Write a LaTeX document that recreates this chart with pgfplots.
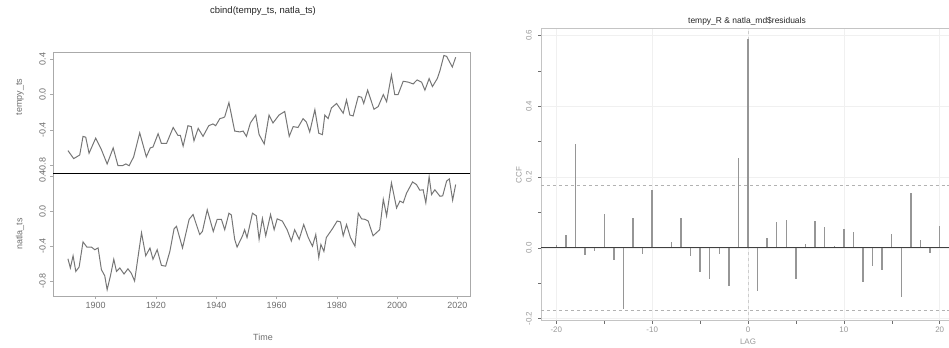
\documentclass[border=0pt]{standalone}
\usepackage{pgfplots}
\pgfplotsset{compat=1.18}
\usepackage{fontspec}
\setmainfont{Liberation Sans}
\definecolor{ln}{RGB}{118,118,118}
\definecolor{fr}{RGB}{170,170,170}
\definecolor{tk}{RGB}{110,110,110}
\definecolor{bar}{RGB}{150,150,150}
\begin{document}
\begin{tikzpicture}[x=1bp,y=1bp]
\useasboundingbox (0,0) rectangle (949,347);
\pgfplotsset{
  leftpanel/.style={
    scale only axis, width=417bp,
    xmin=1885.84, xmax=2024.16,
    axis line style={fr, line width=0.6bp},
    tick style={fr, line width=0.5bp},
    tick align=outside, major tick length=3bp,
    xtick pos=bottom, ytick pos=left,
    xtick={1900,1920,1940,1960,1980,2000,2020},
    ytick={-0.8,-0.4,0,0.4},
    yticklabels={-0.8,-0.4,0.0,0.4},
    yticklabel shift=3bp,
    yticklabel style={rotate=90, anchor=south, font=\fontsize{9}{10}\selectfont, text=tk, inner sep=1bp},
    xticklabel style={font=\fontsize{9}{10}\selectfont, text=tk},
    /pgf/number format/assume math mode=true,
    clip=true,
  }
}
% top panel
\begin{axis}[leftpanel, at={(53bp,174bp)}, anchor=south west, height=121bp,
  ymin=-0.882, ymax=0.479, xticklabels={}, xtick style={draw=none}]
\addplot[ln, line width=1bp] coordinates {
(1890.8,-0.63)(1892.7,-0.72)(1894.7,-0.68)(1895.8,-0.47)(1896.7,-0.48)(1897.8,-0.66)(1900.0,-0.49)(1901.9,-0.62)(1903.8,-0.78)(1905.8,-0.60)(1907.4,-0.80)(1908.8,-0.80)(1910.0,-0.78)(1911.1,-0.80)(1912.6,-0.70)(1914.6,-0.43)(1916.8,-0.70)(1918.1,-0.60)(1919.0,-0.59)(1920.7,-0.44)(1921.8,-0.55)(1923.5,-0.55)(1925.7,-0.37)(1927.3,-0.46)(1928.1,-0.46)(1929.0,-0.58)(1930.6,-0.35)(1931.7,-0.36)(1932.6,-0.52)(1934.0,-0.38)(1935.6,-0.47)(1937.5,-0.35)(1938.9,-0.33)(1939.8,-0.35)(1941.2,-0.27)(1942.3,-0.26)(1942.8,-0.25)(1944.2,-0.09)(1946.1,-0.41)(1947.8,-0.42)(1948.9,-0.41)(1950.0,-0.47)(1951.3,-0.32)(1953.1,-0.23)(1954.2,-0.45)(1955.9,-0.555)(1957.5,-0.23)(1958.8,-0.32)(1960.8,-0.23)(1962.7,-0.19)(1964.2,-0.47)(1965.5,-0.36)(1967.1,-0.37)(1968.8,-0.27)(1969.9,-0.31)(1971.0,-0.42)(1972.7,-0.17)(1974.0,-0.435)(1975.2,-0.45)(1976.0,-0.23)(1977.1,-0.27)(1978.2,-0.15)(1979.9,-0.10)(1982.1,-0.21)(1983.2,-0.06)(1984.3,-0.23)(1985.4,-0.24)(1987.1,-0.02)(1988.2,-0.03)(1988.9,-0.10)(1990.2,0.05)(1992.3,-0.165)(1993.7,-0.135)(1995.4,0.0)(1996.5,-0.08)(1998.1,0.22)(1999.2,0.0)(2000.3,0.0)(2002.0,0.15)(2003.7,0.14)(2005.3,0.12)(2006.6,0.165)(2008.1,0.14)(2009.2,0.05)(2010.6,0.18)(2011.7,0.09)(2013.3,0.18)(2014.2,0.27)(2015.5,0.44)(2016.4,0.43)(2018.3,0.31)(2019.4,0.42)
};
\end{axis}
% bottom panel
\begin{axis}[leftpanel, at={(53bp,51bp)}, anchor=south west, height=123bp,
  ymin=-0.973, ymax=0.443,
  xticklabels={1900,1920,1940,1960,1980,2000,2020}]
\addplot[ln, line width=1bp] coordinates {
(1890.8,-0.545)(1891.6,-0.65)(1892.5,-0.51)(1893.4,-0.69)(1894.5,-0.64)(1895.8,-0.35)(1897.1,-0.41)(1898.6,-0.41)(1899.7,-0.44)(1900.8,-0.42)(1901.9,-0.67)(1903.0,-0.74)(1903.8,-0.90)(1904.9,-0.74)(1906.0,-0.55)(1906.9,-0.69)(1908.0,-0.65)(1909.4,-0.72)(1910.7,-0.66)(1911.8,-0.71)(1912.9,-0.80)(1915.2,-0.245)(1916.6,-0.51)(1918.0,-0.42)(1919.0,-0.55)(1920.4,-0.44)(1921.8,-0.62)(1923.2,-0.63)(1924.6,-0.46)(1926.0,-0.20)(1926.8,-0.17)(1928.8,-0.42)(1931.0,-0.09)(1932.3,-0.035)(1934.5,-0.265)(1935.4,-0.23)(1937.0,0.02)(1939.0,-0.23)(1940.3,-0.09)(1941.7,-0.09)(1942.8,-0.21)(1944.2,-0.02)(1945.0,-0.04)(1946.1,-0.32)(1946.9,-0.41)(1948.7,-0.28)(1949.4,-0.21)(1950.2,-0.30)(1952.0,-0.02)(1953.3,-0.05)(1954.2,-0.32)(1955.3,-0.08)(1956.4,-0.28)(1958.0,-0.035)(1959.2,-0.21)(1960.2,-0.085)(1961.9,-0.11)(1963.5,-0.21)(1964.9,-0.34)(1966.0,-0.21)(1967.5,-0.32)(1969.0,-0.15)(1970.5,-0.30)(1971.9,-0.40)(1973.0,-0.265)(1974.0,-0.53)(1974.7,-0.38)(1975.7,-0.46)(1976.5,-0.30)(1978.5,-0.20)(1980.1,-0.11)(1981.2,-0.12)(1982.1,-0.28)(1983.2,-0.15)(1984.5,-0.30)(1986.0,-0.40)(1987.1,-0.02)(1988.2,-0.085)(1989.3,-0.09)(1990.4,-0.11)(1992.0,-0.28)(1993.1,-0.245)(1994.2,-0.21)(1995.4,0.14)(1996.5,-0.05)(1998.1,0.33)(1999.8,0.04)(2000.9,0.12)(2002.0,0.10)(2003.1,0.21)(2005.1,0.34)(2006.4,0.31)(2007.5,0.245)(2008.6,0.25)(2009.5,0.10)(2010.6,0.40)(2011.4,0.195)(2012.5,0.25)(2014.2,0.175)(2015.1,0.18)(2016.4,0.35)(2017.3,0.375)(2018.4,0.13)(2019.4,0.31)
};
\draw[black, line width=0.9bp] (rel axis cs:0,1) -- (rel axis cs:1,1);
\end{axis}
% right panel
\begin{axis}[at={(541bp,26.5bp)}, anchor=south west, scale only axis,
  width=414bp, height=292.2bp,
  xmin=-21.6, xmax=21.6, ymin=-0.205, ymax=0.62,
  axis line style={fr!70, line width=0.6bp},
  tick style={tk, line width=0.5bp},
  tick align=outside, major tick length=3bp, minor tick length=3bp,
  xtick pos=bottom, ytick pos=left,
  xtick={-20,-10,0,10,20}, minor xtick={-15,-5,5,15},
  xticklabels={-20,-10,0,10,20},
  ytick={-0.2,0,0.2,0.4,0.6}, minor ytick={-0.1,0.1,0.3,0.5},
  yticklabels={-0.2,0.0,0.2,0.4,0.6},
  yticklabel shift=5bp,
  yticklabel style={rotate=90, anchor=south, font=\fontsize{8}{9}\selectfont, text=gray!80, inner sep=1bp},
  xticklabel style={font=\fontsize{8}{9}\selectfont, text=gray!80},
  xmajorgrids, ymajorgrids, grid style={gray!12, line width=0.6bp},
  /pgf/number format/assume math mode=true,
]
\draw[gray!40, dashed, line width=0.7bp] (axis cs:0,-0.205) -- (axis cs:0,0.62);
\draw[gray!60, dashed, line width=0.5bp] (axis cs:-21.6,0.176) -- (axis cs:21.6,0.176);
\draw[gray!60, dashed, line width=0.5bp] (axis cs:-21.6,-0.176) -- (axis cs:21.6,-0.176);
\addplot[ycomb, bar, line width=1.4bp] coordinates {
(-20,0.007)(-19,0.035)(-18,0.292)(-17,-0.019)(-16,-0.008)(-15,0.097)(-14,-0.035)(-13,-0.172)(-12,0.083)(-11,-0.016)(-10,0.164)(-9,0.002)(-8,0.018)(-7,0.083)(-6,-0.024)(-5,-0.068)(-4,-0.087)(-3,-0.016)(-2,-0.108)(-1,0.255)(0,0.590)(1,-0.122)(2,0.029)(3,0.074)(4,0.080)(5,-0.089)(6,0.012)(7,0.077)(8,0.060)(9,0.006)(10,0.054)(11,0.044)(12,-0.096)(13,-0.052)(14,-0.063)(15,0.039)(16,-0.138)(17,0.154)(18,0.021)(19,-0.014)(20,0.063)
};
\draw[black!75, line width=0.8bp] (axis cs:-21.6,0) -- (axis cs:21.6,0);
\end{axis}
% texts
\node[font=\fontsize{9.5}{11}\selectfont, text=black!85] at (263,336) {cbind(tempy\_ts, natla\_ts)};
\node[font=\fontsize{9}{10}\selectfont, text=tk, rotate=90] at (20,250) {tempy\_ts};
\node[font=\fontsize{9}{10}\selectfont, text=tk, rotate=90] at (20,113) {natla\_ts};
\node[font=\fontsize{9}{10}\selectfont, text=tk] at (263,10) {Time};
\node[font=\fontsize{8.5}{10}\selectfont, text=black!85] at (747,326) {tempy\_R \& natla\_md\$residuals};
\node[font=\fontsize{8}{9}\selectfont, text=gray!80] at (748,5.5) {LAG};
\node[font=\fontsize{8}{9}\selectfont, text=gray!80, rotate=90] at (519,172) {CCF};
\end{tikzpicture}
\end{document}
